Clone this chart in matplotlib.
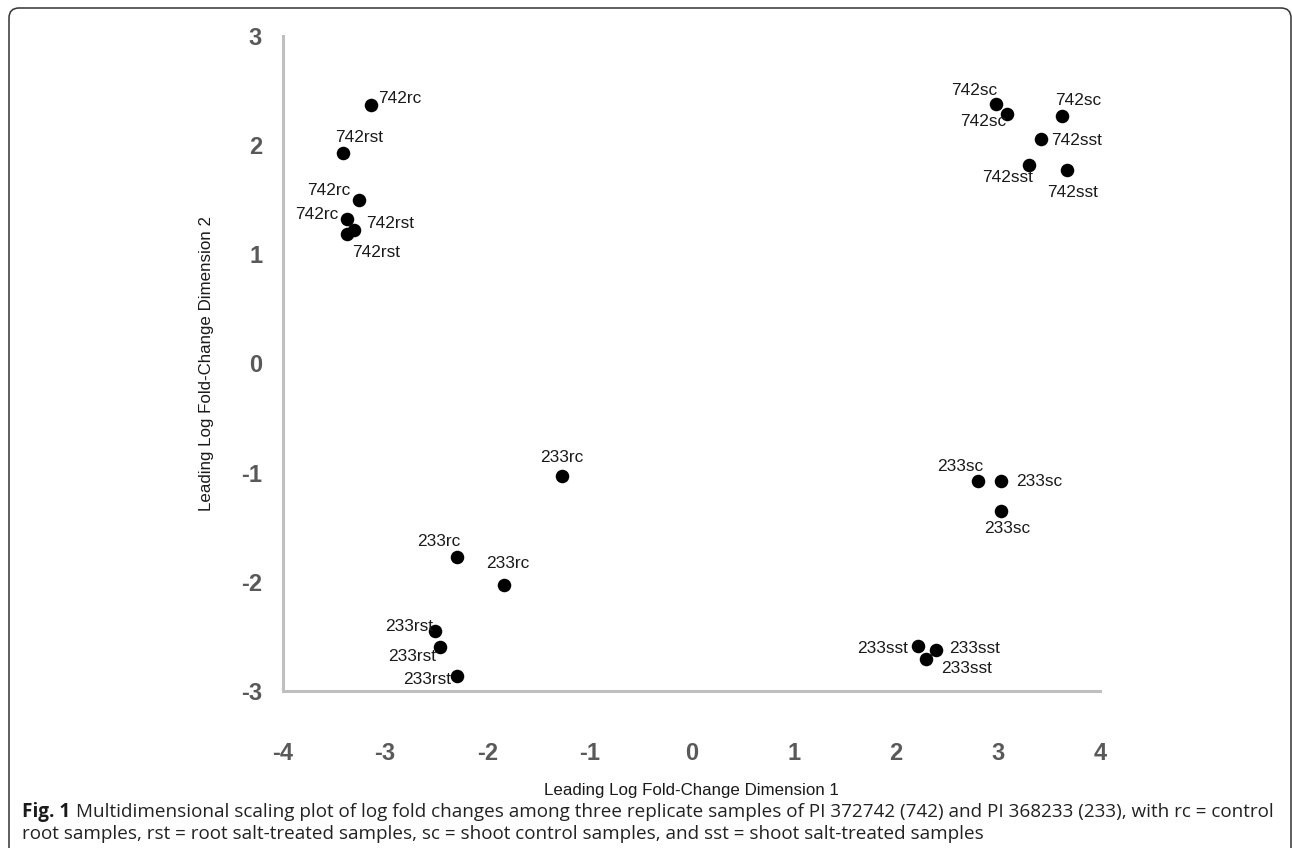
import matplotlib.pyplot as plt
from matplotlib.patches import FancyBboxPatch

# Coordenadas MDS das amostras
nomes = ['742rc', '742rst', '742rc', '742rc', '742rst', '742rst',
         '742sc', '742sc', '742sc', '742sst', '742sst', '742sst',
         '233rc', '233rc', '233rc', '233rst', '233rst', '233rst',
         '233sc', '233sc', '233sc', '233sst', '233sst', '233sst']
dim1 = [-3.14, -3.41, -3.26, -3.37, -3.30, -3.37,
        2.98, 3.09, 3.63, 3.42, 3.30, 3.68,
        -1.27, -2.30, -1.84, -2.51, -2.46, -2.30,
        2.81, 3.03, 3.03, 2.22, 2.39, 2.30]
dim2 = [2.37, 1.93, 1.50, 1.32, 1.22, 1.19,
        2.38, 2.29, 2.27, 2.06, 1.82, 1.77,
        -1.03, -1.77, -2.03, -2.45, -2.60, -2.86,
        -1.08, -1.08, -1.35, -2.59, -2.62, -2.71]

# deslocamento dos rótulos (pixels) e alinhamento
pos_rotulos = [(7, 6, 'left'), (16, 15, 'center'), (-8, 9, 'right'), (-9, 5, 'right'),
               (12, 7, 'left'), (5, -19, 'left'),
               (1, 13, 'right'), (-1, -8, 'right'), (16, 15, 'center'), (10, -2, 'left'),
               (4, -13, 'right'), (5, -22, 'center'),
               (0, 18, 'center'), (-18, 15, 'center'), (4, 22, 'center'), (-2, 4, 'right'),
               (-4, -9, 'right'), (-5, -4, 'right'),
               (-18, 15, 'center'), (15, 0, 'left'), (6, -18, 'center'), (-10, -2, 'right'),
               (14, 1, 'left'), (15, -9, 'left')]

plt.rcParams['font.family'] = ['Liberation Sans', 'DejaVu Sans']
plt.rcParams['axes.unicode_minus'] = False

fig = plt.figure(figsize=(12.92, 8.48), dpi=100)
ax = fig.add_axes([283 / 1292, 1 - 691 / 848, 817 / 1292, 655 / 848])

ax.scatter(dim1, dim2, s=95, color='black', zorder=3, linewidths=0)
for nome, x, y, (dx, dy, ha) in zip(nomes, dim1, dim2, pos_rotulos):
    ax.annotate(nome, (x, y), xytext=(dx, dy), textcoords='offset pixels',
                ha=ha, va='center', fontsize=12.4, color='#1a1a1a')

ax.set_xlim(-4, 4)
ax.set_ylim(-3, 3)
ax.set_xticks(range(-4, 5))
ax.set_yticks(range(-3, 4))
for lado in ['top', 'right']:
    ax.spines[lado].set_visible(False)
for lado in ['left', 'bottom']:
    ax.spines[lado].set_color('#bfbfbf')
    ax.spines[lado].set_linewidth(2.2)
ax.tick_params(axis='both', length=0, labelsize=17, labelcolor='#595959')
ax.tick_params(axis='x', pad=37)
ax.tick_params(axis='y', pad=15)
for rot in ax.get_xticklabels() + ax.get_yticklabels():
    rot.set_fontweight('bold')

ax.set_xlabel('Leading Log Fold-Change Dimension 1', fontsize=12.2, color='#1a1a1a')
ax.set_ylabel('Leading Log Fold-Change Dimension 2', fontsize=12.2, color='#1a1a1a')
ax.xaxis.set_label_coords(0.5, -0.140)
ax.yaxis.set_label_coords(-0.0845, 0.5)

# legenda da figura
fonte_leg = ['Open Sans', 'DejaVu Sans']
t = fig.text(22 / 1292, 1 - 812 / 848, 'Fig. 1', fontsize=13.6, fontweight='bold',
             family=fonte_leg, color='#1a1a1a', va='center')
fig.canvas.draw()
bb = t.get_window_extent(fig.canvas.get_renderer())
fig.text((bb.x1 + 6) / 1292, 1 - 812 / 848,
         'Multidimensional scaling plot of log fold changes among three replicate samples of '
         'PI 372742 (742) and PI 368233 (233), with rc = control',
         fontsize=13.6, family=fonte_leg, color='#222222', va='center')
fig.text(22 / 1292, 1 - 834 / 848,
         'root samples, rst = root salt-treated samples, sc = shoot control samples, '
         'and sst = shoot salt-treated samples',
         fontsize=13.6, family=fonte_leg, color='#222222', va='center')

# moldura arredondada
moldura = FancyBboxPatch((0.09, -0.1), 12.82, 8.50, boxstyle='round,pad=0,rounding_size=0.1',
                         transform=fig.dpi_scale_trans, fill=False, edgecolor='#333333',
                         linewidth=1.1, clip_on=False)
fig.patches.append(moldura)

fig.savefig('out.png', dpi=100)
